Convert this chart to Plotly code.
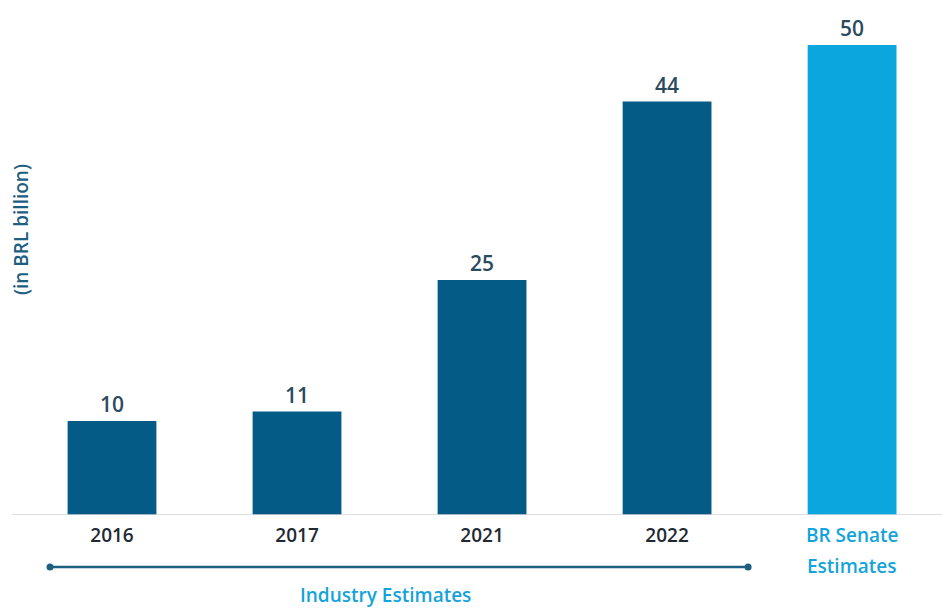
import plotly.graph_objects as go

categories = ["2016", "2017", "2021", "2022", "BR Senate Estimates"]
tick_labels = ["2016", "2017", "2021", "2022", ""]
senate_label_lines = ["BR Senate", "Estimates"]
values = [10, 11, 25, 44, 50]
bar_colors = ["#045b86", "#045b86", "#045b86", "#045b86", "#0ca6de"]

FONT = "Open Sans"
fig = go.Figure()
fig.add_trace(go.Bar(
    x=categories, y=values,
    marker=dict(color=bar_colors, line=dict(width=0)),
    text=[str(v) for v in values], textposition="outside",
    textfont=dict(size=21, color="#2b4a5e", family=FONT, weight=600),
    cliponaxis=False, width=0.48, hoverinfo="skip",
))

# BR Senate two-line label
for i, (line, ypx) in enumerate(zip(senate_label_lines, [535, 566])):
    fig.add_annotation(x=categories[4], y=(515 - ypx) / 515, xref="x", yref="paper",
                       text=line, showarrow=False, yanchor="middle",
                       font=dict(size=19, color="#14a3db", family=FONT, weight=600))

# Industry Estimates bracket line with end dots
y_line = (515 - 567) / 515
fig.add_shape(type="line", xref="x", yref="paper", x0=-0.335, x1=3.438,
              y0=y_line, y1=y_line, line=dict(color="#1d5f80", width=2.5))
for xc in [-0.335, 3.438]:
    fig.add_shape(type="circle", xref="x", yref="paper", xsizemode="pixel",
                  ysizemode="pixel", xanchor=xc, yanchor=y_line,
                  x0=-3.5, x1=3.5, y0=-3.5, y1=3.5,
                  fillcolor="#1d5f80", line=dict(width=0))

fig.add_annotation(x=1.476, y=(515 - 595) / 515, xref="x", yref="paper",
                   text="Industry Estimates", showarrow=False,
                   font=dict(size=19, color="#14a3db", family=FONT, weight=600),
                   yanchor="middle")

fig.add_annotation(x=(21 - 12) / 930, y=(515 - 230) / 515, xref="paper", yref="paper",
                   text="(in BRL billion)", textangle=-90, showarrow=False,
                   font=dict(size=19, color="#1d5f80", family=FONT, weight=600),
                   xanchor="center", yanchor="middle")

# baseline
fig.add_shape(type="line", xref="paper", yref="y", x0=0, x1=1, y0=0, y1=0,
              line=dict(color="#d3d6d9", width=1.5))

fig.update_layout(
    width=942, height=608,
    margin=dict(l=12, r=0, t=0, b=93),
    plot_bgcolor="white", paper_bgcolor="white",
    showlegend=False, bargap=0.52,
    xaxis=dict(range=[-0.5405, 4.486], tickmode="array", tickvals=categories,
               ticktext=tick_labels, showline=False, showgrid=False, ticks="",
               ticklabelstandoff=7,
               tickfont=dict(size=19, color="#1f2a33", family=FONT, weight=600),
               zeroline=False, fixedrange=True),
    yaxis=dict(range=[0, 54.8], visible=False, fixedrange=True),
)

fig.write_html("out.html")
